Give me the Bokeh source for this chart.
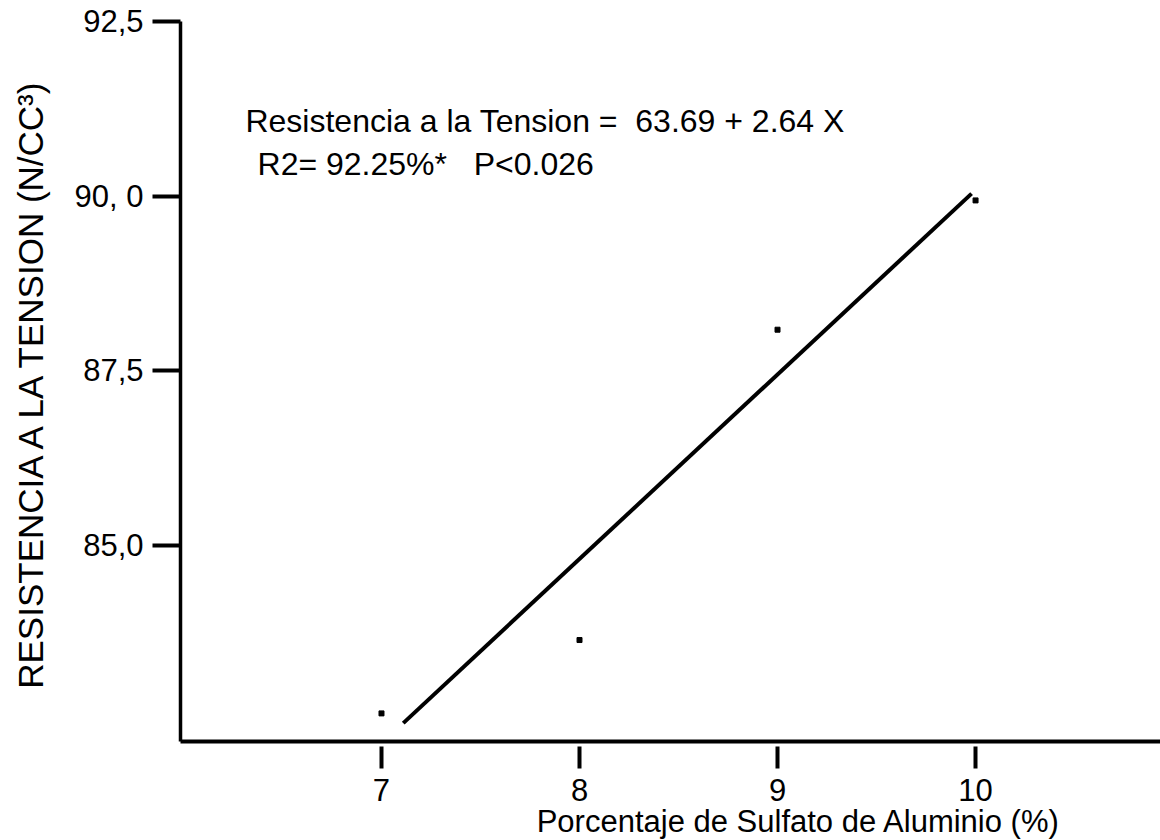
from bokeh.plotting import figure
from bokeh.models import FixedTicker, Range1d, Label, Title
from bokeh.embed import file_html
from bokeh.resources import INLINE

# Aluminium sulphate percentage vs. tensile strength
sulfato = [7, 8, 9, 10]
resistencia = [82.60, 83.65, 88.09, 89.94]

# Fitted regression: Resistencia = 63.69 + 2.64 X
intercepto = 63.69
pendiente = 2.64
x_ajuste = [7.11, 9.98]
y_ajuste = [intercepto + pendiente * x for x in x_ajuste]

x_ticks = [7, 8, 9, 10]
y_ticks = [85.0, 87.5, 90.0, 92.5]
y_tick_labels = {85.0: "85,0", 87.5: "87,5", 90.0: "90, 0", 92.5: "92,5"}

FONT = "Liberation Sans"

p = figure(width=1160, height=840, output_backend="svg", toolbar_location=None,
           x_range=Range1d(5.985, 10.934), y_range=Range1d(82.198, 92.5),
           min_border_left=180, min_border_right=0, min_border_top=21,
           min_border_bottom=0)
p.outline_line_color = None
p.grid.visible = False
p.background_fill_color = "white"
p.border_fill_color = "white"

# regression line and observed means
p.line(x_ajuste, y_ajuste, line_color="black", line_width=4)
p.scatter(sulfato, resistencia, marker="square", size=5, color="black")

# x axis
xa = p.xaxis[0]
xa.ticker = FixedTicker(ticks=x_ticks)
xa.axis_line_width = 4
xa.axis_line_color = "black"
xa.major_tick_line_width = 4
xa.major_tick_in = -5
xa.major_tick_out = 27
xa.minor_tick_line_color = None
xa.major_label_standoff = 10
xa.major_label_text_font = FONT
xa.major_label_text_font_size = "31px"
xa.major_label_text_color = "black"

# x axis title, right-aligned under the frame
p.add_layout(Title(text="Porcentaje de Sulfato de Aluminio (%)", align="right",
                   offset=100, text_font=FONT, text_font_size="31px",
                   text_font_style="normal", text_color="black",
                   vertical_align="top", standoff=0), "below")

# y axis
ya = p.yaxis[0]
ya.ticker = FixedTicker(ticks=y_ticks)
ya.major_label_overrides = y_tick_labels
ya.axis_line_width = 3.5
ya.axis_line_color = "black"
ya.major_tick_line_width = 4
ya.major_tick_in = 0
ya.major_tick_out = 28
ya.minor_tick_line_color = None
ya.major_label_standoff = 9
ya.major_label_text_font = FONT
ya.major_label_text_font_size = "31px"
ya.major_label_text_color = "black"
ya.axis_label = "RESISTENCIA A LA TENSION (N/CC\u00b3)"
ya.axis_label_text_font = FONT
ya.axis_label_text_font_size = "35px"
ya.axis_label_text_font_style = "normal"
ya.axis_label_text_color = "black"
ya.axis_label_standoff = 22

# regression equation and statistics
p.add_layout(Label(x=6.313, y=91.078,
                   text="Resistencia a la Tension =\u00a0\u00a063.69 + 2.64 X",
                   text_font=FONT, text_font_size="32px", text_color="black",
                   text_align="left", text_baseline="alphabetic"))
p.add_layout(Label(x=6.374, y=90.46,
                   text="R2= 92.25%*\u00a0\u00a0\u00a0P<0.026",
                   text_font=FONT, text_font_size="32px", text_color="black",
                   text_align="left", text_baseline="alphabetic"))

open("out.html", "w").write(file_html(p, INLINE))
